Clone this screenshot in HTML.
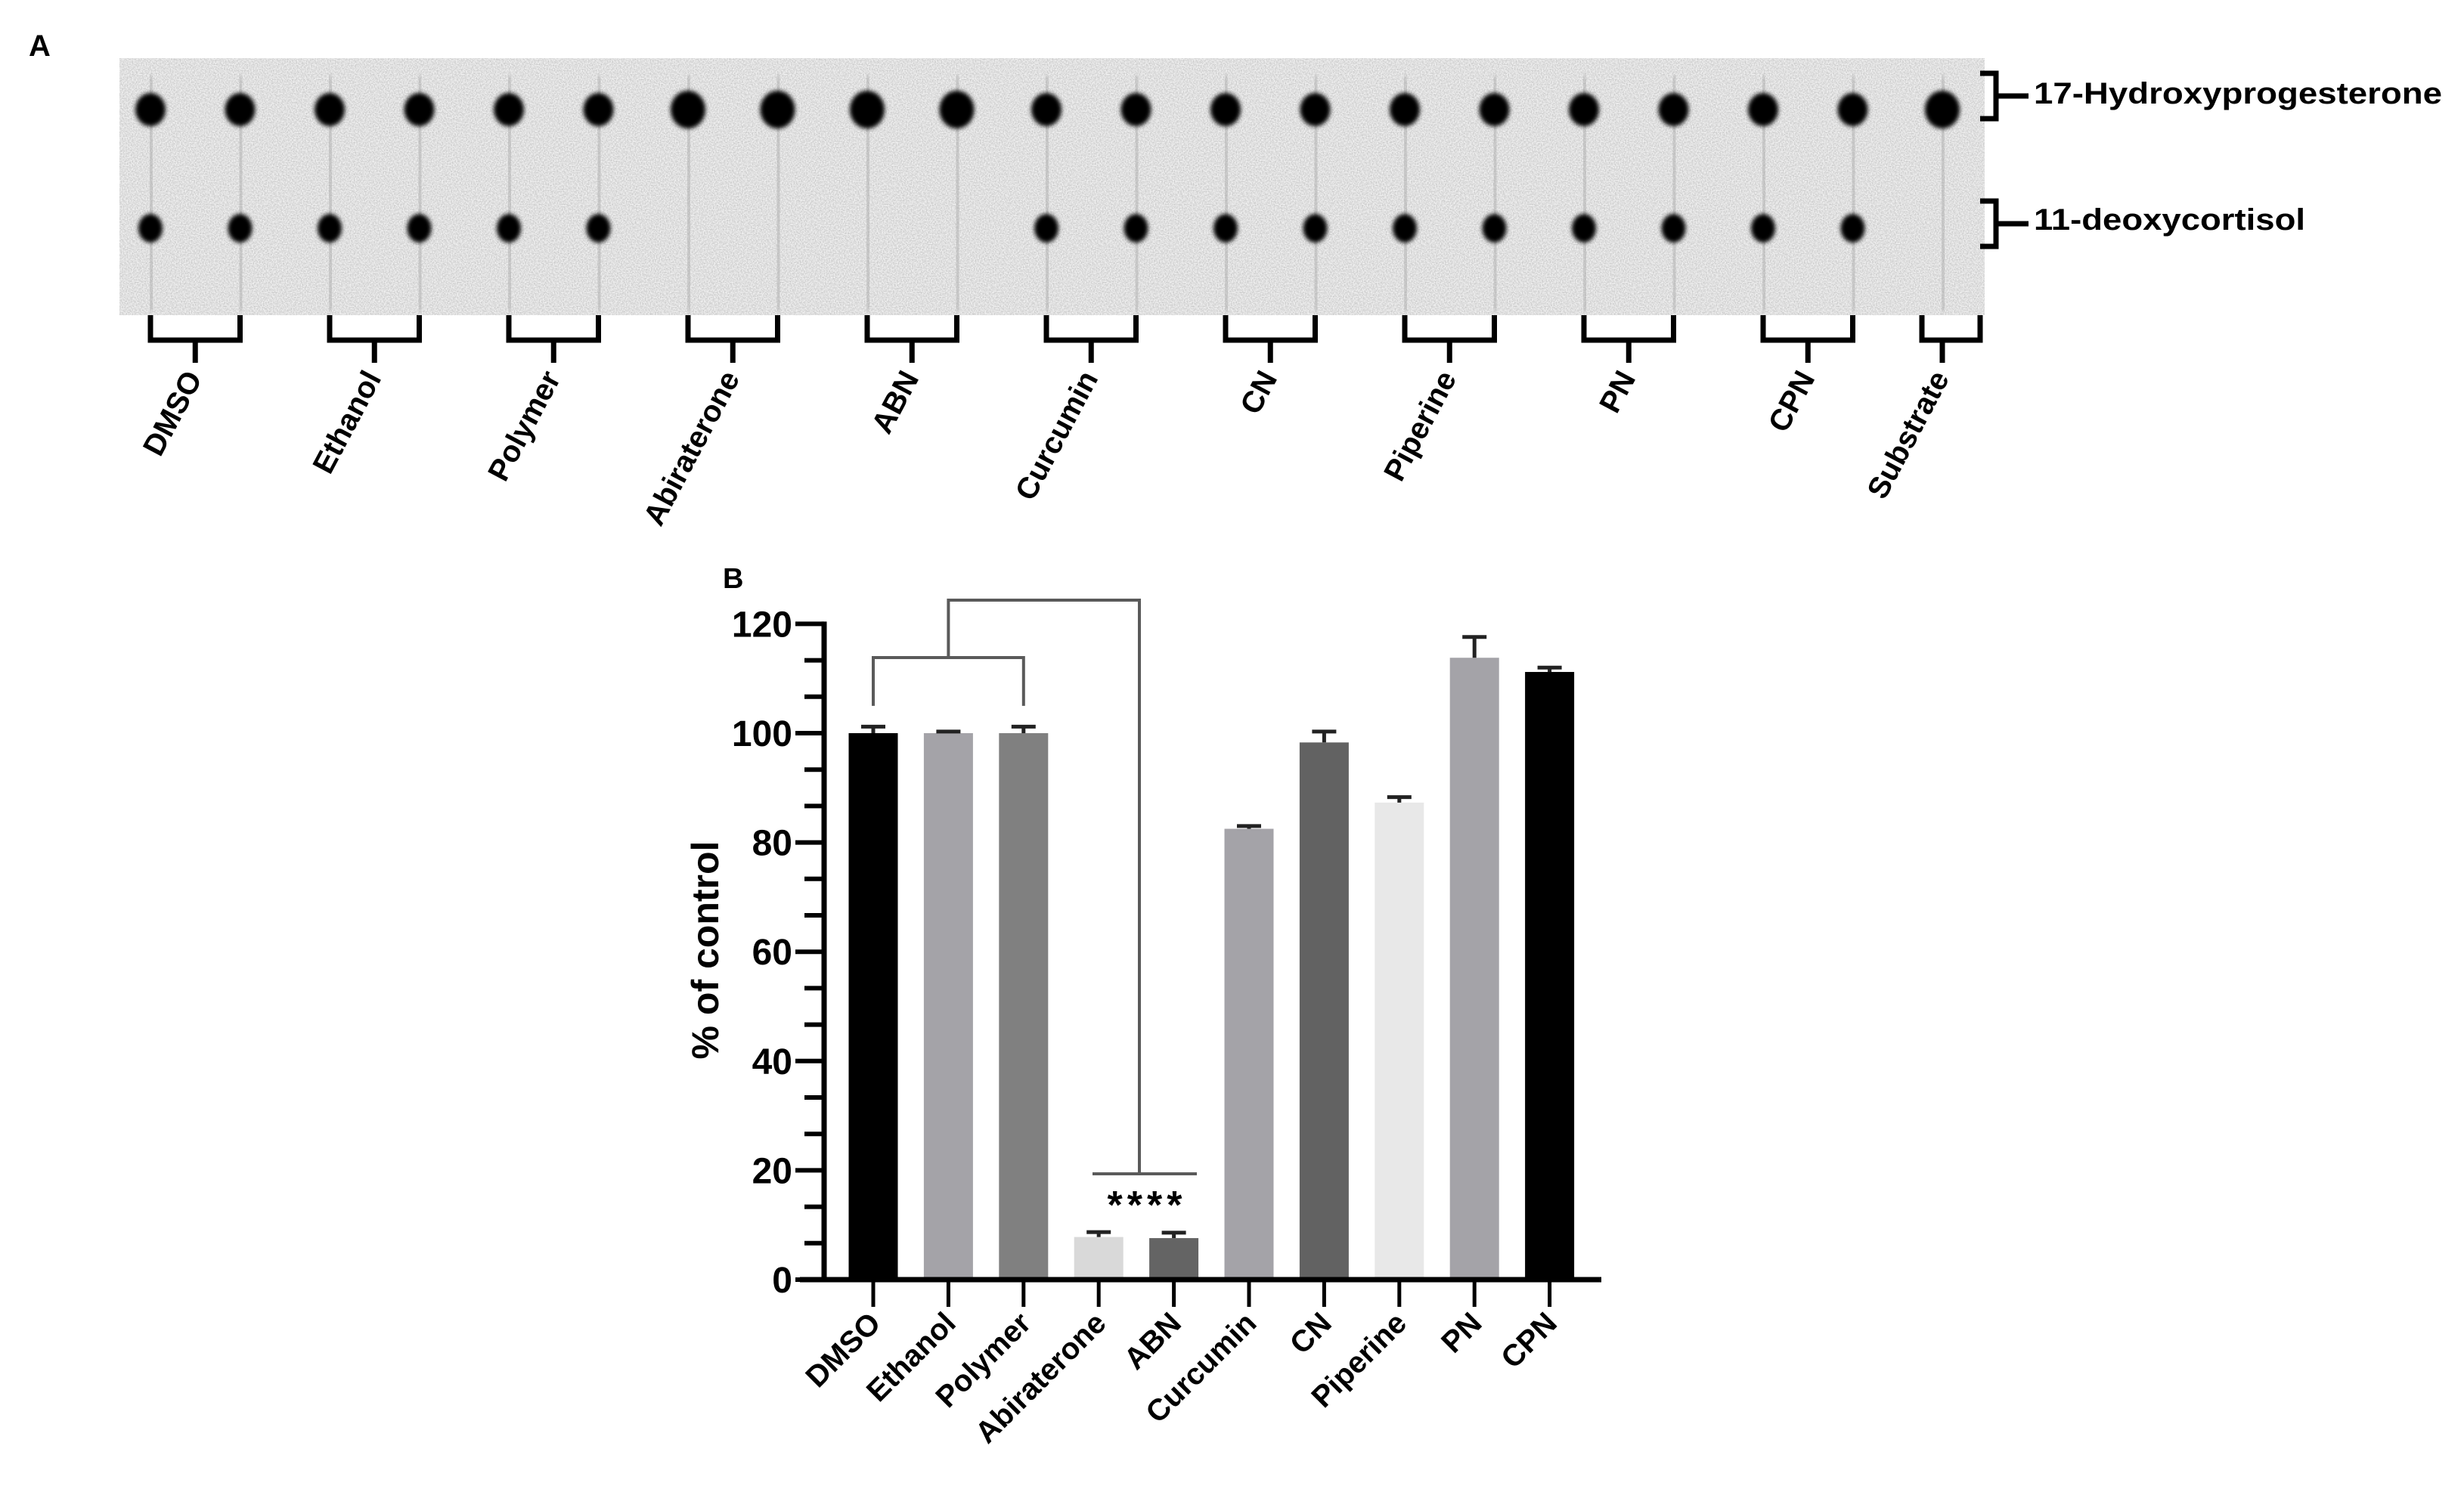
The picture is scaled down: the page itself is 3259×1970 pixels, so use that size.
<!DOCTYPE html>
<html><head><meta charset="utf-8"><style>
html,body{margin:0;padding:0;background:#fff}
svg{display:block}
text{font-family:"Liberation Sans",sans-serif;font-weight:bold;fill:#000}
</style></head><body>
<svg id="fig" width="3259" height="1970" viewBox="0 0 3259 1970" xmlns="http://www.w3.org/2000/svg">
<defs>
<filter id="blur" x="-50%" y="-50%" width="200%" height="200%"><feGaussianBlur stdDeviation="3"/></filter>
<filter id="noise" filterUnits="userSpaceOnUse" x="158" y="77" width="2467" height="340"><feTurbulence type="fractalNoise" baseFrequency="0.6" numOctaves="2" seed="3"/><feColorMatrix values="0 0 0 0 0  0 0 0 0 0  0 0 0 0 0  0 0 0 -1.3 0.95"/></filter>
</defs>
<text x="38" y="74" font-size="40">A</text>
<g id="gel">
<rect x="158" y="77" width="2467" height="340" fill="#f2f2f2"/>
<rect x="158" y="77" width="2467" height="340" filter="url(#noise)" opacity="0.25"/>
</g>
<g id="gelLabels"></g>
<text x="2690" y="137" font-size="40" textLength="540" lengthAdjust="spacingAndGlyphs">17-Hydroxyprogesterone</text>
<text x="2690" y="304" font-size="40" textLength="359" lengthAdjust="spacingAndGlyphs">11-deoxycortisol</text>
<path d="M2619 97 H2640 V127 H2683 M2640 127 V157 H2619" fill="none" stroke="#000" stroke-width="7"/>
<path d="M2619 266 H2640 V296 H2683 M2640 296 V326 H2619" fill="none" stroke="#000" stroke-width="7"/>

<text x="956" y="778" font-size="38">B</text>
<g id="chart"></g>
</svg>
<script>
const NS='http://www.w3.org/2000/svg';
function mk(tag,attrs,parent){const e=document.createElementNS(NS,tag);for(const k in attrs)e.setAttribute(k,attrs[k]);parent.appendChild(e);return e;}

// ---------- Panel A (TLC) ----------
const laneGroups=['DMSO','Ethanol','Polymer','Abiraterone','ABN','Curcumin','CN','Piperine','PN','CPN','Substrate'];
const row2Present=[1,1,1,1,1,1,0,0,0,0,1,1,1,1,1,1,1,1,1,1,0];
const gel=document.getElementById('gel');
const gl=document.getElementById('gelLabels');
const laneX=i=>199+i*118.5;
for(let i=0;i<21;i++){
  const x=laneX(i);
  const s=mk('line',{x1:x,y1:100,x2:x+2,y2:412,stroke:'#a8a8a8','stroke-width':8,opacity:0.55,filter:'url(#blur)'},gel);
  
  
  const big=(i>=6&&i<=9)||i==20;
  const sp=mk('ellipse',{cx:x,cy:145,rx:big?23:20,ry:big?25:22,fill:'#000',filter:'url(#blur)'},gel);
  
  
  if(row2Present[i]){
    const sp2=mk('ellipse',{cx:x,cy:302,rx:16,ry:19,fill:'#000',filter:'url(#blur)'},gel);
    
    
  }
}
laneGroups.forEach((g,k)=>{
  let a,b;
  if(k<10){a=laneX(2*k);b=laneX(2*k+1);}else{a=laneX(20)-27;b=laneX(20)+50;}
  const c=(k<10)?(a+b)/2:laneX(20);
  const br=mk('path',{d:`M${a} 417 V450 H${b} V417 M${c} 450 V480`,fill:'none',stroke:'#000','stroke-width':7},gl);
  
  
  const t=mk('text',{x:c+10,y:500,'font-size':40,'text-anchor':'end',transform:`rotate(-62 ${c+10} 500)`},gl);
  t.textContent=g;
  
  
});

// ---------- Panel B (bar chart) ----------
const categories=['DMSO','Ethanol','Polymer','Abiraterone','ABN','Curcumin','CN','Piperine','PN','CPN'];
const values=[100,100,100,7.8,7.6,82.5,98.3,87.3,113.8,111.2];
const errors=[1.2,0.3,1.2,0.9,1.0,0.5,2.0,1.0,3.8,0.8];
const colors=['#000000','#a4a3a8','#808080','#d9d9d9','#646464','#a4a3a8','#626262','#e8e8e8','#a4a3a8','#000000'];
const yTicks=[0,20,40,60,80,100,120];

const ch=document.getElementById('chart');
const Y0=1693, PXU=7.23, AXX=1090;
const y=v=>Y0-v*PXU;
const x=i=>1155+i*99.4;
const BW=65;

categories.forEach((c,i)=>{
  const b=mk('rect',{x:x(i)-BW/2,y:y(values[i]),width:BW,height:Y0-y(values[i]),fill:colors[i]},ch);
  
  
  const e=mk('path',{d:`M${x(i)} ${y(values[i])} V${y(values[i]+errors[i])} M${x(i)-16} ${y(values[i]+errors[i])} H${x(i)+16}`,stroke:'#222','stroke-width':5,fill:'none'},ch);
  
  
  const tk=mk('line',{x1:x(i),y1:Y0,x2:x(i),y2:Y0+36,stroke:'#000','stroke-width':5},ch);
  
  
  const lx=x(i)+12, ly=Y0+60;
  const t=mk('text',{x:lx,y:ly,'font-size':40,'text-anchor':'end',transform:`rotate(-45 ${lx} ${ly})`},ch);
  t.textContent=c;
  
  
});
const ya=mk('line',{x1:AXX,y1:y(120)-3,x2:AXX,y2:Y0+3,stroke:'#000','stroke-width':7},ch);


const xa=mk('line',{x1:1058,y1:Y0,x2:2118,y2:Y0,stroke:'#000','stroke-width':7},ch);


yTicks.forEach((v,k)=>{
  const t=mk('line',{x1:AXX-38,y1:y(v),x2:AXX,y2:y(v),stroke:'#000','stroke-width':6},ch);
  
  
  const l=mk('text',{x:1048,y:y(v)+17,'font-size':48,'text-anchor':'end'},ch);
  l.textContent=v;
  
  
  if(k<yTicks.length-1){
    for(const f of [1/3,2/3]){
      const m=mk('line',{x1:AXX-26,y1:y(v+20*f),x2:AXX,y2:y(v+20*f),stroke:'#000','stroke-width':6},ch);
      
      
    }
  }
});
const yt=mk('text',{x:950,y:1257,'font-size':50,'text-anchor':'middle',transform:'rotate(-90 950 1257)'},ch);
yt.textContent='% of control';



// significance brackets
const b1=mk('path',{d:`M${x(0)} ${y(105)} V870 H${x(2)} V${y(105)} M${x(1)} 870 V794 H1507 V1553 M1445 1553 H1583`,fill:'none',stroke:'#5a5a5a','stroke-width':4},ch);


const st=mk('text',{x:1517,y:1612,'font-size':52,'text-anchor':'middle','font-weight':'normal','letter-spacing':'6',fill:'#222'},ch);
st.textContent='****';


</script>
</body></html>
